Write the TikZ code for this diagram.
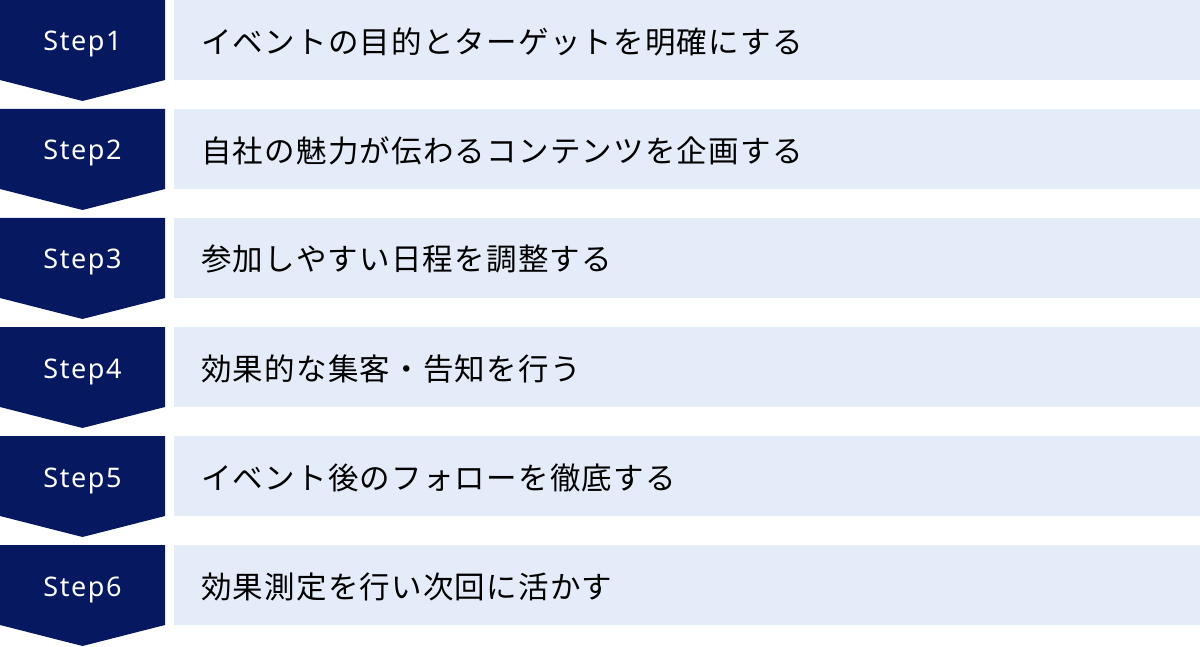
\documentclass[tikz,border=0pt]{standalone}
\usepackage{fontspec}
\setmainfont{Noto Sans}
\newfontfamily\jpfont[LetterSpace=4]{Noto Sans CJK JP}
\newfontfamily\stepfont[LetterSpace=6]{Noto Sans}
\definecolor{navy}{HTML}{06185F}
\definecolor{lightbg}{HTML}{E5ECF9}
\tikzset{
  stepshape/.style={fill=navy, draw=none},
  barshape/.style={fill=lightbg, draw=none},
  steplabel/.style={text=white, font=\stepfont\fontsize{27}{30}\selectfont, inner sep=0pt, anchor=base},
  barlabel/.style={text=black, font=\jpfont\fontsize{30.5}{33}\selectfont, inner sep=0pt, anchor=west},
}
\begin{document}
\begin{tikzpicture}[x=1pt,y=-1pt]
\useasboundingbox (0,0) rectangle (1200,647);
\foreach \i/\t in {1/イベントの目的とターゲットを明確にする,
                   2/自社の魅力が伝わるコンテンツを企画する,
                   3/参加しやすい日程を調整する,
                   4/効果的な集客・告知を行う,
                   5/イベント後のフォローを徹底する,
                   6/効果測定を行い次回に活かす}{
  \pgfmathsetmacro{\yy}{(\i-1)*109}
  \fill[stepshape] (0,\yy) -- (165,\yy) -- (165,\yy+80) -- (82.5,\yy+101) -- (0,\yy+80) -- cycle;
  \fill[barshape] (174,\yy) rectangle (1200,\yy+80);
  \node[steplabel] (s\i) at (82.5,\yy+51) {Step\i};
  \node[barlabel] (b\i) at (201,\yy+41.5) {\t};
}
\end{tikzpicture}
\end{document}
